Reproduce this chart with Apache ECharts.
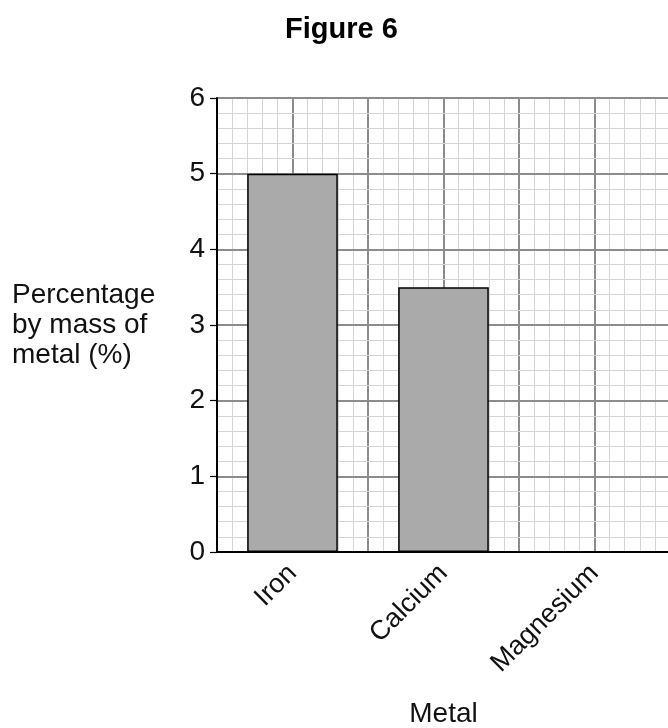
<!DOCTYPE html>
<html>
<head>
<meta charset="utf-8">
<script src="https://cdn.jsdelivr.net/npm/echarts@6/dist/echarts.min.js"></script>
<style>
html,body{margin:0;padding:0;background:#fff;}
#c{width:668px;height:728px;}
</style>
</head>
<body>
<div id="c"></div>
<script>
var categories = ['Iron', 'Calcium', 'Magnesium'];
var values = [5, 3.5, null];
var yTicks = [0, 1, 2, 3, 4, 5, 6];
var titleText = 'Figure 6';
var yName = 'Percentage\nby mass of\nmetal (%)';
var xName = 'Metal';

var FONT = 'Liberation Sans, Arial, sans-serif';
var chart = echarts.init(document.getElementById('c'), null, {renderer: 'canvas'});
chart.setOption({
  animation: false,
  backgroundColor: '#fff',
  title: {
    text: titleText,
    left: 280,
    top: 10,
    textStyle: {fontFamily: FONT, fontSize: 29, fontWeight: 'bold', color: '#000'}
  },
  grid: {left: 217, right: -2, top: 98, bottom: 176, containLabel: false, outerBoundsMode: 'none'},
  xAxis: [{
    type: 'category',
    data: categories,
    name: xName,
    nameLocation: 'middle',
    nameGap: 148,
    nameTextStyle: {fontFamily: FONT, fontSize: 28, color: '#111'},
    axisLine: {show: true, lineStyle: {color: '#000', width: 2}},
    axisTick: {show: false},
    splitLine: {show: false},
    axisLabel: {rotate: 45, margin: 17, fontFamily: FONT, fontSize: 27, color: '#111'},
    z: 1
  }, {
    type: 'value',
    min: 0, max: 6, interval: 1,
    position: 'bottom',
    axisLine: {show: false},
    axisTick: {show: false},
    axisLabel: {show: false},
    splitLine: {show: true, lineStyle: {color: '#8c8c8c', width: 2}},
    minorTick: {show: false, splitNumber: 5},
    minorSplitLine: {show: true, lineStyle: {color: '#d4d4d4', width: 1}},
    z: 0
  }],
  yAxis: {
    type: 'value',
    min: yTicks[0], max: yTicks[yTicks.length - 1], interval: 1,
    name: yName,
    nameLocation: 'middle',
    nameRotate: 0,
    nameGap: 205,
    nameTextStyle: {fontFamily: FONT, fontSize: 28, color: '#111', align: 'left', verticalAlign: 'middle', lineHeight: 30},
    axisLine: {show: true, lineStyle: {color: '#000', width: 2}},
    axisTick: {show: true, length: 7, lineStyle: {color: '#000', width: 1.2}},
    axisLabel: {margin: 12, fontFamily: FONT, fontSize: 28, color: '#111'},
    splitLine: {show: true, lineStyle: {color: '#8c8c8c', width: 2}},
    minorTick: {show: false, splitNumber: 5},
    minorSplitLine: {show: true, lineStyle: {color: '#d4d4d4', width: 1}},
    z: 1
  },
  series: [{
    type: 'bar',
    xAxisIndex: 0,
    data: values,
    barWidth: '60%',
    itemStyle: {color: '#aaaaaa', borderColor: '#000', borderWidth: 1.5},
    z: 10
  }]
});
</script>
</body>
</html>
